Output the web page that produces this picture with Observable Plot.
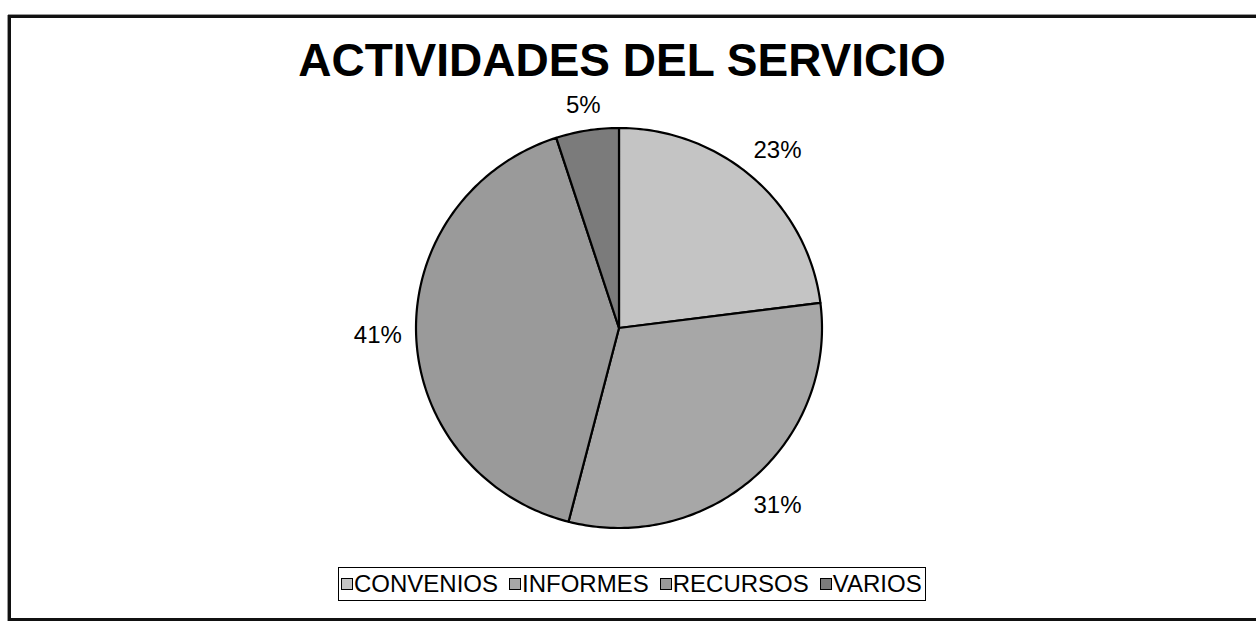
<!DOCTYPE html>
<html>
<head>
<meta charset="utf-8">
<script src="https://cdn.jsdelivr.net/npm/d3@7"></script>
<script src="https://cdn.jsdelivr.net/npm/@observablehq/plot@0.6"></script>
<style>
  html, body { margin: 0; padding: 0; background: #fff; }
  body { width: 1256px; height: 628px; overflow: hidden; position: relative; font-family: "Liberation Sans", Arial, sans-serif; }
  .rule { position: absolute; background: #111; }
  #rtop { left: 8px; top: 15px; width: 1248px; height: 3px; box-shadow: 0 -1px 0 #999; }
  #rleft { left: 8px; top: 15px; width: 3px; height: 606px; box-shadow: -1px 0 0 #999; }
  #rbot { left: 8px; top: 618px; width: 1248px; height: 3px; }
  #title { position: absolute; left: 0; top: 37px; width: 1244px; text-align: center;
           font-size: 46px; font-weight: bold; line-height: 46px; color: #000; }
  #chart { position: absolute; left: 0; top: 90px; }
  #legend { position: absolute; left: 338px; top: 567px; height: 32px; padding: 0 3px 0 2px;
            border: 1.5px solid #000; display: flex; align-items: center; white-space: nowrap;
            font-size: 24px; color: #000; }
  .item { display: flex; align-items: center; margin-right: 11px; }
  .item:last-child { margin-right: 0; }
  .sw { width: 10px; height: 10px; border: 1px solid #000; margin-right: 1px; }
</style>
</head>
<body>
<div class="rule" id="rtop"></div>
<div class="rule" id="rleft"></div>
<div class="rule" id="rbot"></div>
<div id="title">ACTIVIDADES DEL SERVICIO</div>
<div id="chart"></div>
<div id="legend"></div>
<script>
// ---- data ----
const categories = ["CONVENIOS", "INFORMES", "RECURSOS", "VARIOS"];
const values = [23, 31, 41, 5];
const labels = ["23%", "31%", "41%", "5%"];

// ---- style ----
const colors = ["#c4c4c4", "#a7a7a7", "#9a9a9a", "#7b7b7b"];
const labelSize = 24;

const arcs = d3.pie().sort(null).value(d => d)(values);

// slice polygons in unit-circle coordinates (angle 0 at 12 o'clock, clockwise)
const slices = [];
arcs.forEach((a, i) => {
  const k = categories[i];
  slices.push({k, x: 0, y: 0});
  const n = Math.max(2, Math.ceil((a.endAngle - a.startAngle) / (Math.PI / 180)));
  for (let j = 0; j <= n; j++) {
    const t = a.startAngle + (a.endAngle - a.startAngle) * j / n;
    slices.push({k, x: Math.sin(t), y: Math.cos(t)});
  }
});

// label anchors placed just outside the rim
const labelRows = arcs.map((a, i) => {
  const m = (a.startAngle + a.endAngle) / 2;
  const txt = labels[i];
  const w = (txt.length - 1) * 0.556 * labelSize + 0.889 * labelSize;
  const off = 14 + (w / 2) * Math.abs(Math.sin(m)) + 9 * Math.abs(Math.cos(m));
  return {
    text: txt,
    x: Math.sin(m) * (1 + off / 203),
    y: Math.cos(m) * (1 + off / 200)
  };
});

const W = 1256, H = 460, top0 = 90;
const cx0 = 415.5, cx1 = 821.5, cy0 = 127.5, cy1 = 527.5;

const chart = Plot.plot({
  width: W,
  height: H,
  marginLeft: cx0,
  marginRight: W - cx1,
  marginTop: cy0 - top0,
  marginBottom: H - (cy1 - top0),
  x: {domain: [-1, 1], axis: null},
  y: {domain: [-1, 1], axis: null},
  color: {domain: categories, range: colors},
  style: {fontFamily: "'Liberation Sans', Arial, sans-serif", background: "transparent", overflow: "visible"},
  marks: [
    Plot.line(slices, {x: "x", y: "y", z: "k", fill: "k", stroke: "#000", strokeWidth: 2.2,
                       strokeLinejoin: "round", curve: "linear-closed"}),
    Plot.text(labelRows, {x: "x", y: "y", text: "text", fontSize: labelSize, fill: "#000",
                          textAnchor: "middle", lineAnchor: "middle"})
  ]
});
document.getElementById("chart").appendChild(chart);

// legend
const legend = document.getElementById("legend");
categories.forEach((c, i) => {
  const item = document.createElement("div");
  item.className = "item";
  const sw = document.createElement("div");
  sw.className = "sw";
  sw.style.background = colors[i];
  const tx = document.createElement("span");
  tx.textContent = c;
  item.appendChild(sw);
  item.appendChild(tx);
  legend.appendChild(item);
});
</script>
</body>
</html>
